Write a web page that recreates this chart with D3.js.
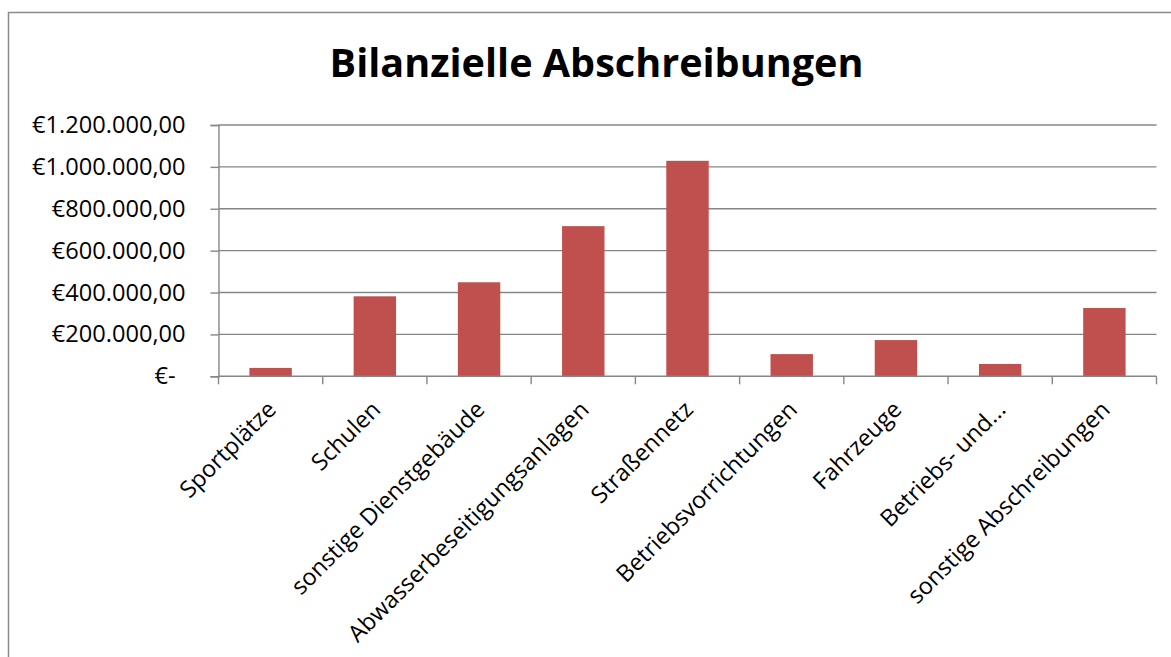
<!DOCTYPE html>
<html>
<head>
<meta charset="utf-8">
<script src="https://cdn.jsdelivr.net/npm/d3@7"></script>
<style>
  html, body { margin: 0; padding: 0; background: #fff; }
  svg { display: block; }
</style>
</head>
<body>
<svg id="chart" width="1171" height="657"></svg>
<script>
const title = "Bilanzielle Abschreibungen";
const categories = [
  "Sportplätze",
  "Schulen",
  "sonstige Dienstgebäude",
  "Abwasserbeseitigungsanlagen",
  "Straßennetz",
  "Betriebsvorrichtungen",
  "Fahrzeuge",
  "Betriebs- und...",
  "sonstige Abschreibungen"
];
const values = [40000, 382000, 449000, 717000, 1029000, 106000, 173000, 59000, 326000];
const yTicks = [0, 200000, 400000, 600000, 800000, 1000000, 1200000];

const W = 1171, H = 657;
const margin = { left: 218.5, right: 1156.5, top: 125, bottom: 376.3 };
const font = "'Open Sans', 'DejaVu Sans', sans-serif";
const barColor = "#C0504D";
const gridColor = "#868686";

const svg = d3.select("#chart");

// outer chart border
svg.append("rect")
  .attr("x", 8.5).attr("y", 12.5)
  .attr("width", W + 20).attr("height", H + 20)
  .attr("fill", "#fff")
  .attr("stroke", "#8a8a8a").attr("stroke-width", 1.5);

const xb = d3.scaleBand().domain(categories).range([margin.left, margin.right]).padding(0);
const y = d3.scaleLinear().domain([0, 1200000]).range([margin.bottom, margin.top]);
const barW = xb.bandwidth() * 0.407;

// gridlines
svg.append("g").selectAll("line").data(yTicks.filter(d => d > 0)).join("line")
  .attr("x1", margin.left).attr("x2", margin.right)
  .attr("y1", d => y(d)).attr("y2", d => y(d))
  .attr("stroke", gridColor).attr("stroke-width", 1.4);

// bars
svg.append("g").selectAll("rect").data(values).join("rect")
  .attr("x", (d, i) => xb(categories[i]) + (xb.bandwidth() - barW) / 2)
  .attr("width", barW)
  .attr("y", d => y(d))
  .attr("height", d => y(0) - y(d))
  .attr("fill", barColor);

// y axis
const fmt = v => v === 0 ? "€-" : "€" + d3.format(",.2f")(v).replace(/,/g, "X").replace(/\./g, ",").replace(/X/g, ".");
const yAxis = d3.axisLeft(y).tickValues(yTicks).tickFormat(fmt).tickSize(8).tickPadding(25);
const gy = svg.append("g").attr("transform", `translate(${margin.left},0)`).call(yAxis);
gy.select(".domain").attr("stroke", gridColor).attr("stroke-width", 1.4);
gy.selectAll(".tick line").attr("stroke", gridColor).attr("stroke-width", 1.4);
gy.selectAll(".tick text")
  .attr("font-family", font).attr("font-size", 23.6).attr("fill", "#000")
  .attr("dx", d => d === 0 ? -10 : 0);

// x axis baseline and ticks at category boundaries
const boundaries = categories.map(c => xb(c)).concat([margin.right]);
svg.append("line")
  .attr("x1", margin.left).attr("x2", margin.right)
  .attr("y1", y(0)).attr("y2", y(0))
  .attr("stroke", gridColor).attr("stroke-width", 1.4);
svg.append("g").selectAll("line").data(boundaries).join("line")
  .attr("x1", d => d).attr("x2", d => d)
  .attr("y1", y(0)).attr("y2", y(0) + 8)
  .attr("stroke", gridColor).attr("stroke-width", 1.4);

// x labels
svg.append("g").selectAll("text").data(categories).join("text")
  .attr("transform", d => `translate(${xb(d) + xb.bandwidth() / 2 + 7},${411}) rotate(-45)`)
  .attr("text-anchor", "end")
  .attr("font-family", font).attr("font-size", 23.4).attr("fill", "#000")
  .text(d => d);

// title
svg.append("text")
  .attr("x", 596.5).attr("y", 77)
  .attr("text-anchor", "middle")
  .attr("font-family", font).attr("font-weight", "bold").attr("font-size", 39.6)
  .attr("fill", "#000")
  .text(title);
</script>
</body>
</html>
